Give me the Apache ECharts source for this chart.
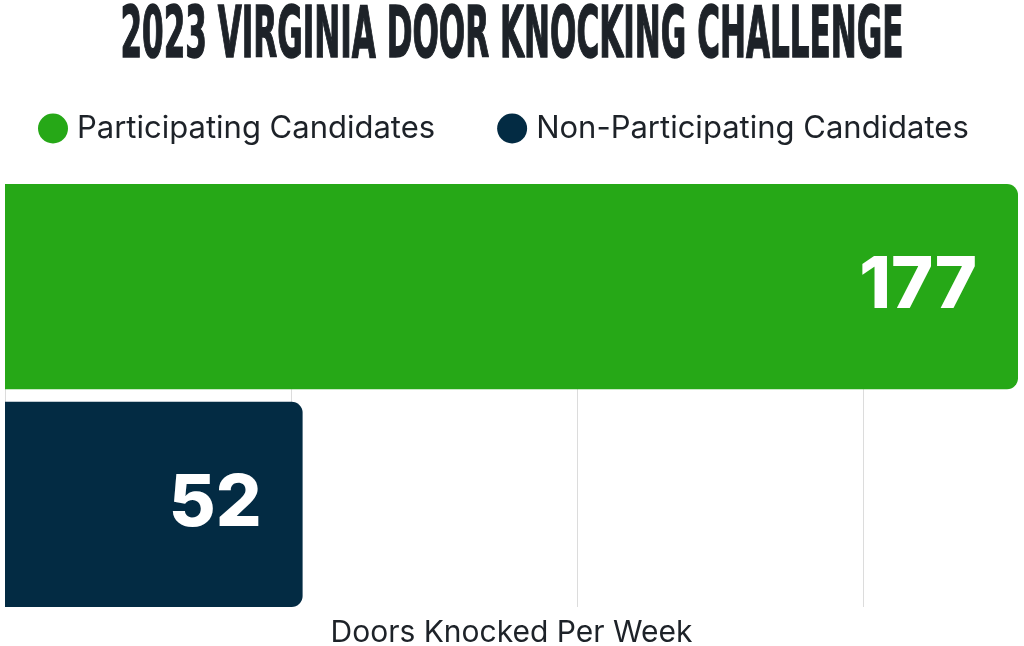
<!DOCTYPE html>
<html>
<head>
<meta charset="utf-8">
<script src="https://cdn.jsdelivr.net/npm/echarts@6/dist/echarts.min.js"></script>
<style>
  html, body { margin: 0; padding: 0; background: #fff; }
  #chart { width: 1024px; height: 646px; }
</style>
</head>
<body>
<div id="chart"></div>
<script>
const titleText = '2023 VIRGINIA DOOR KNOCKING CHALLENGE';
const categories = ['Doors'];
const seriesNames = ['Participating Candidates', 'Non-Participating Candidates'];
const participating = [177];
const nonParticipating = [52];
const axisName = 'Doors Knocked Per Week';

const colorGreen = '#26a817';
const colorNavy = '#032b43';

// squeeze the title into a condensed look
const titleFont = 'bold 72px "DejaVu Sans Condensed"';
const ctx = document.createElement('canvas').getContext('2d');
ctx.font = titleFont;
const titleScale = 783 / ctx.measureText(titleText).width;

const chart = echarts.init(document.getElementById('chart'));

const barLabel = {
    show: true,
    position: 'insideRight',
    distance: 41,
    color: '#fff',
    fontFamily: 'Inter',
    fontWeight: 800,
    fontSize: 72
};

chart.setOption({
    animation: false,
    graphic: [{
        type: 'text',
        x: 512,
        y: 2,
        scaleX: titleScale,
        originX: 0,
        style: {
            text: titleText,
            font: titleFont,
            fill: '#1d2228',
            stroke: '#1d2228',
            lineWidth: 1.5,
            align: 'center',
            verticalAlign: 'top'
        }
    }],
    legend: {
        left: 33,
        top: 108,
        icon: 'circle',
        itemWidth: 30,
        itemHeight: 30,
        itemGap: 62,
        textStyle: {
            fontFamily: 'Inter',
            fontSize: 31,
            color: '#1d2228',
            padding: [0, 0, 0, 4]
        },
        data: seriesNames
    },
    grid: {
        left: 5,
        right: 6,
        top: 184,
        bottom: 39,
        outerBoundsMode: 'none',
        containLabel: false
    },
    xAxis: {
        type: 'value',
        min: 0,
        max: 177,
        interval: 50,
        name: axisName,
        nameLocation: 'middle',
        nameGap: 11,
        nameTextStyle: {
            fontFamily: 'Inter',
            fontSize: 30,
            color: '#1d2228'
        },
        axisLabel: { show: false },
        axisTick: { show: false },
        axisLine: { show: false },
        splitLine: {
            show: true,
            showMaxLine: false,
            lineStyle: { color: '#dcdcdc', width: 1 }
        }
    },
    yAxis: {
        type: 'category',
        inverse: true,
        data: categories,
        axisLabel: { show: false },
        axisTick: { show: false },
        axisLine: { show: false }
    },
    series: [{
        name: seriesNames[0],
        type: 'bar',
        data: participating,
        barCategoryGap: '0%',
        barGap: '6%',
        itemStyle: { color: colorGreen, borderRadius: [0, 11, 11, 0] },
        label: barLabel
    }, {
        name: seriesNames[1],
        type: 'bar',
        data: nonParticipating,
        barCategoryGap: '0%',
        barGap: '6%',
        itemStyle: { color: colorNavy, borderRadius: [0, 11, 11, 0] },
        label: barLabel
    }]
});
</script>
</body>
</html>
